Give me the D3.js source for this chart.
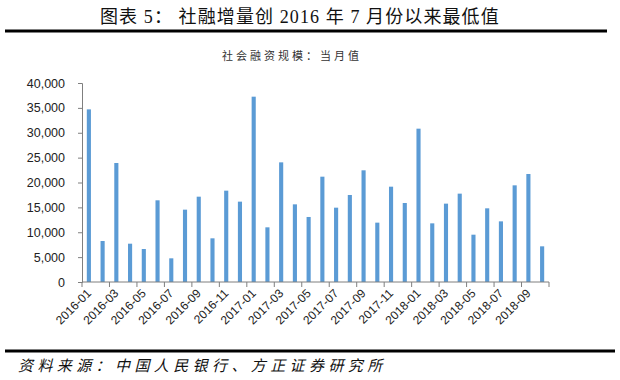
<!DOCTYPE html>
<html><head><meta charset="utf-8">
<script src="https://cdn.jsdelivr.net/npm/d3@7"></script>
<style>body{margin:0;background:#fff}</style>
</head><body>
<svg id="c" width="620" height="380"></svg>
<script>
const months = ["2016-01","2016-02","2016-03","2016-04","2016-05","2016-06","2016-07","2016-08","2016-09","2016-10","2016-11","2016-12",
"2017-01","2017-02","2017-03","2017-04","2017-05","2017-06","2017-07","2017-08","2017-09","2017-10","2017-11","2017-12",
"2018-01","2018-02","2018-03","2018-04","2018-05","2018-06","2018-07","2018-08","2018-09","2018-10"];
const tsfMonthly = [34700,8240,23920,7700,6630,16420,4760,14540,17150,8780,18360,16150,
37250,10990,24050,15610,13070,21170,14940,17490,22450,11930,19160,15880,
30820,11790,15750,17760,9510,14810,12190,19430,21710,7170];
const yTicks = [0,5000,10000,15000,20000,25000,30000,35000,40000];
const titleText = "图表 5：  社融增量创 2016 年 7 月份以来最低值";
const subtitleText = "社会融资规模：当月值";
const sourceText = "资料来源：中国人民银行、方正证券研究所";

(function(){
const svg = d3.select("#c");
const pL = 82, pR = 549, pT = 83, pB = 282;
const x = d3.scaleBand().domain(months).range([pL, pR]).paddingInner(0.7).paddingOuter(0.35);
const xb = d3.scaleBand().domain(months).range([pL, pR]);
const y = d3.scaleLinear().domain([0, 40000]).range([pB, pT]);
const axisColor = "#7f7f7f";

// title
svg.append("text").attr("x", 100).attr("y", 23)
  .attr("font-family","'Liberation Serif','Noto Sans CJK SC',serif").attr("font-size",18)
  .attr("font-weight",400).attr("letter-spacing",1.1).attr("fill","#111").text(titleText);
svg.append("line").attr("x1",5).attr("x2",607).attr("y1",31).attr("y2",31).attr("stroke","#000").attr("stroke-width",3);
svg.append("text").attr("x", 222).attr("y", 60)
  .attr("font-family","'Noto Sans CJK SC',sans-serif").attr("font-size",11).attr("letter-spacing",3)
  .attr("fill","#333").text(subtitleText);

// bars
svg.append("g").selectAll("rect").data(months).join("rect")
  .attr("x", d => x(d)).attr("width", x.bandwidth())
  .attr("y", (d,i) => y(tsfMonthly[i])).attr("height", (d,i) => y(0) - y(tsfMonthly[i]))
  .attr("fill","#5b9bd5");

// y axis
const ya = svg.append("g").attr("transform",`translate(${pL},0)`)
  .call(d3.axisLeft(y).tickValues(yTicks).tickSize(4).tickPadding(13).tickFormat(d3.format(",")));
ya.select(".domain").attr("stroke",axisColor);
ya.selectAll(".tick line").attr("stroke",axisColor);
ya.selectAll("text").attr("font-family","'Liberation Sans',Arial,sans-serif").attr("font-size",12.5).attr("fill","#222");

// x axis
const xg = svg.append("g").attr("transform",`translate(0,${pB})`);
xg.append("line").attr("x1",pL).attr("x2",pR).attr("stroke",axisColor);
const tickMonths = months.filter((d,i) => i % 2 === 0);
xg.selectAll("line.t").data(tickMonths.concat(["__end"])).join("line").attr("class","t")
  .attr("x1", d => d === "__end" ? pR : xb(d)).attr("x2", d => d === "__end" ? pR : xb(d))
  .attr("y1",0).attr("y2",5).attr("stroke",axisColor);
xg.selectAll("text").data(tickMonths).join("text")
  .attr("transform", d => `translate(${xb(d) + xb.bandwidth()/2 + 3},${12}) rotate(-45)`)
  .attr("text-anchor","end").attr("font-family","'Liberation Sans',Arial,sans-serif")
  .attr("font-size",12).attr("fill","#222").text(d => d);

// footer
svg.append("line").attr("x1",5).attr("x2",615).attr("y1",351).attr("y2",351).attr("stroke","#000").attr("stroke-width",3);
svg.append("text").attr("x",18).attr("y",371)
  .attr("font-family","'Noto Sans CJK SC',sans-serif").attr("font-size",15).attr("font-style","italic")
  .attr("letter-spacing",4.4).attr("fill","#111").text(sourceText);
})();
</script>
</body></html>
